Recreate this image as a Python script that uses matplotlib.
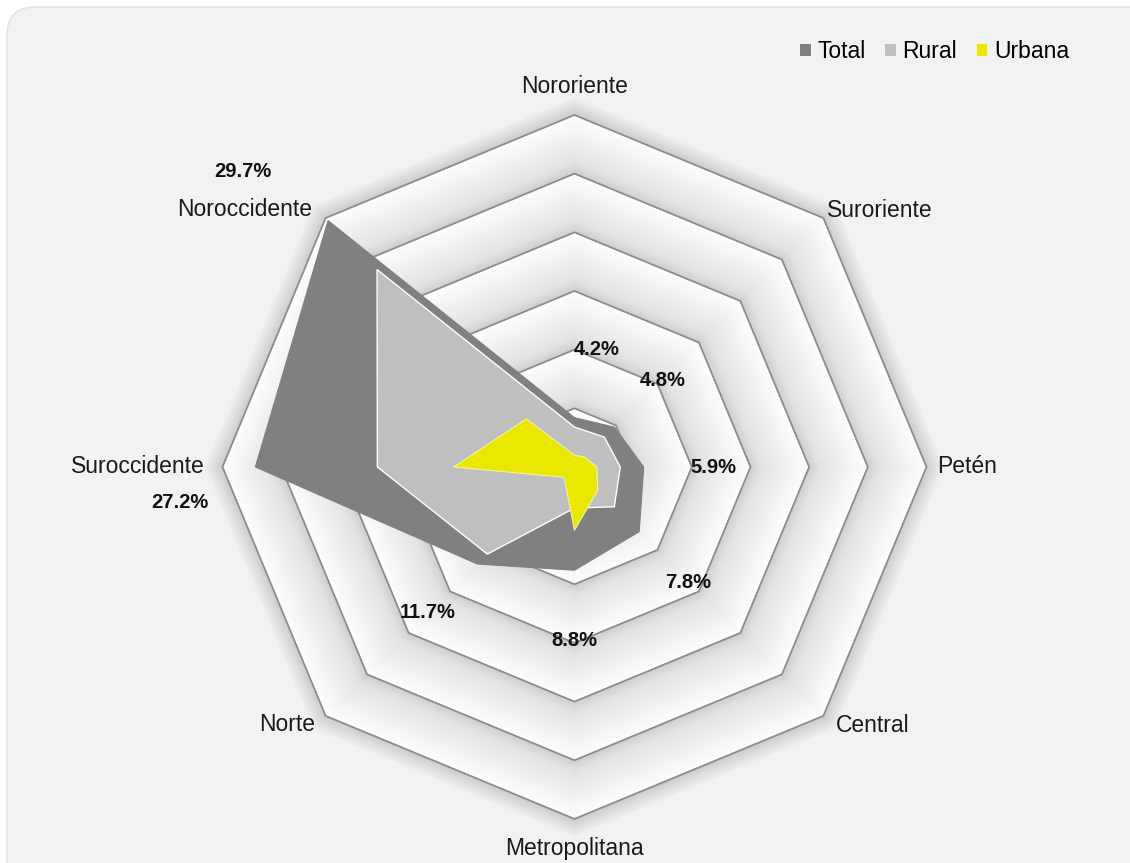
import numpy as np
import matplotlib
matplotlib.use("Agg")
import matplotlib.pyplot as plt
from matplotlib.patches import FancyBboxPatch, Patch

plt.rcParams['font.family'] = ['Liberation Sans', 'DejaVu Sans']

# datos (% por región)
regiones = ["Nororiente", "Suroriente", "Petén", "Central",
            "Metropolitana", "Norte", "Suroccidente", "Noroccidente"]
total = [4.2, 4.8, 5.9, 7.8, 8.8, 11.7, 27.2, 29.7]
rural = [3.4, 3.6, 3.9, 4.8, 3.5, 10.5, 16.8, 23.8]
urbana = [1.0, 1.2, 1.9, 2.8, 5.4, 1.25, 10.3, 5.8]
anillos = [5, 10, 15, 20, 25, 30]

# posiciones de textos (grados, radio)
pos_regiones = [(0, 32.4), (49.9, 34.0), (90, 33.5), (130.9, 33.6),
                (180, 32.5), (228.1, 32.9), (270, 37.2), (308, 35.7)]
pos_valores = [(10.8, 10.2), (45.5, 10.5), (90.4, 11.8), (135.4, 13.8),
               (180, 14.75), (225.3, 17.6), (264.8, 33.8), (311.7, 37.8)]

c_total = '#808080'
c_rural = '#BFBFBF'
c_urbana = '#EBE800'

fig = plt.figure(figsize=(11.3, 8.63), dpi=100)
fig.patch.set_facecolor('white')
fondo = FancyBboxPatch((0.07, -0.5), 11.6, 8.56 + 0.5,
                       boxstyle="round,pad=0,rounding_size=0.28",
                       transform=fig.dpi_scale_trans, fc='#F2F2F2',
                       ec='#E3E3E3', lw=1, zorder=-5)
fig.patches.append(fondo)

ax = fig.add_axes([0.1969, 0.0510, 0.6230, 0.8158], projection='polar')
ax.set_theta_zero_location('N')
ax.set_theta_direction(-1)
ax.set_axis_off()

ang = np.deg2rad(np.arange(0, 360, 45))
rmax = anillos[-1]


def tono(r):
    if r > rmax:
        t = (r - rmax) / 1.6
        return np.interp(t, [0, 1], [0.80, 0.949])
    r_in = 5 * np.floor((r - 1e-9) / 5)
    t = (r - r_in) / 5
    return np.interp(t, [0, 0.2, 0.5, 0.85, 1.0], [0.81, 0.89, 0.93, 0.975, 1.0])


# sombreado de la malla (de afuera hacia adentro)
for r in np.arange(rmax + 1.6, 0, -0.06):
    g = tono(r)
    ax.fill(ang, [r] * 8, fc=(g, g, g), ec='none', zorder=1, clip_on=False)

for r in anillos:
    ax.fill(ang, [r] * 8, fill=False, ec='#8C8C8C', lw=1.3,
            joinstyle='miter', zorder=2, clip_on=False)

ax.fill(ang, total, fc=c_total, ec=c_total, lw=0.8, zorder=3, clip_on=False)
ax.fill(ang, rural, fc=c_rural, ec='white', lw=1.0, zorder=4)
ax.fill(ang, urbana, fc=c_urbana, ec='#F4F2A8', lw=0.8, zorder=5)

for nombre, (th, r) in zip(regiones, pos_regiones):
    ax.text(np.deg2rad(th), r, nombre, ha='center', va='center',
            fontsize=16.5, color='#1A1A1A', zorder=6)

for v, (th, r) in zip(total, pos_valores):
    ax.text(np.deg2rad(th), r, f"{v:.1f}%", ha='center', va='center',
            fontsize=14.5, fontweight='bold', color='#111111', zorder=6)

ax.set_ylim(0, rmax)

handles = [Patch(fc=c_total), Patch(fc=c_rural), Patch(fc=c_urbana)]
fig.legend(handles, ["Total", "Rural", "Urbana"], ncol=3, loc='center right',
           bbox_to_anchor=(0.946, 0.94), frameon=False, fontsize=16.5,
           handlelength=0.45, handleheight=0.45, handletextpad=0.3,
           columnspacing=0.85, borderpad=0, borderaxespad=0)

fig.savefig('out.png', dpi=100, facecolor='white')
